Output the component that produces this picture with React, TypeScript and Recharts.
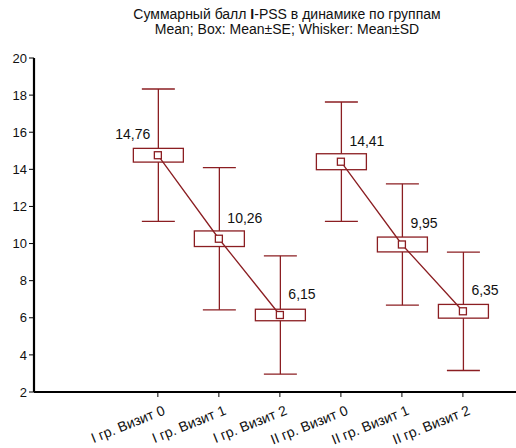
import { ComposedChart, Bar, Line, XAxis, YAxis } from "recharts";

const visits = [
  "I гр. Визит 0",
  "I гр. Визит 1",
  "I гр. Визит 2",
  "II гр. Визит 0",
  "II гр. Визит 1",
  "II гр. Визит 2",
];
const groupOf = [1, 1, 1, 2, 2, 2];
const means = [14.76, 10.26, 6.15, 14.41, 9.95, 6.35];
const sds = [3.57, 3.83, 3.19, 3.22, 3.27, 3.19];
const ses = [0.37, 0.42, 0.31, 0.43, 0.4, 0.37];
const meanLabels = ["14,76", "10,26", "6,15", "14,41", "9,95", "6,35"];
const yTicks = [2, 4, 6, 8, 10, 12, 14, 16, 18, 20];

const RED = "#8b1e22";
const FONT = "'Liberation Sans', Arial, sans-serif";

const data = visits.map((name, i) => ({
  x: i,
  name,
  mean: means[i],
  sd: sds[i],
  se: ses[i],
  label: meanLabels[i],
  range: [means[i] - sds[i], means[i] + sds[i]],
  meanI: groupOf[i] === 1 ? means[i] : null,
  meanII: groupOf[i] === 2 ? means[i] : null,
}));

function BoxWhisker(props: any) {
  const { x, y, width, height, payload, index } = props;
  const cx = x + width / 2;
  const ppu = height / (2 * payload.sd);
  const cy = y + height / 2;
  const boxH = payload.se * ppu;
  const cap = 16.5;
  const labelLeft = index === 0;
  return (
    <g>
      <line x1={cx} x2={cx} y1={y} y2={y + height} stroke={RED} strokeWidth={1.3} />
      <line x1={cx - cap} x2={cx + cap} y1={y} y2={y} stroke={RED} strokeWidth={1.3} />
      <line x1={cx - cap} x2={cx + cap} y1={y + height} y2={y + height} stroke={RED} strokeWidth={1.3} />
      <rect x={cx - 25} y={cy - boxH} width={50} height={boxH * 2} fill="#fff" stroke={RED} strokeWidth={1.3} />
      <text
        x={labelLeft ? cx - 8 : cx + 8}
        y={cy - 16}
        textAnchor={labelLeft ? "end" : "start"}
        fontSize={14}
        fontFamily={FONT}
        fill="#111"
      >
        {payload.label}
      </text>
    </g>
  );
}

function MeanDot(props: any) {
  const { cx, cy, value } = props;
  if (value == null || cx == null) return <g />;
  return <rect x={cx - 3.5} y={cy - 3.5} width={7} height={7} fill="#fff" stroke={RED} strokeWidth={1.3} />;
}

function XTick(props: any) {
  const { x, y, payload } = props;
  return (
    <text
      transform={`translate(${x + 8},${y + 15}) rotate(-22)`}
      textAnchor="end"
      fontSize={14}
      fontFamily={FONT}
      fill="#111"
    >
      {visits[payload.value]}
    </text>
  );
}

export default function App() {
  return (
    <div style={{ position: "absolute", left: 0, top: 0, width: 516, height: 448, background: "#fff" }}>
      <div
        style={{
          position: "absolute",
          left: 0,
          top: 7,
          width: 574,
          textAlign: "center",
          fontFamily: FONT,
          fontSize: 14,
          lineHeight: "15px",
          color: "#111",
        }}
      >
        <div>
          Суммарный балл <b>I</b>-PSS в динамике по группам
        </div>
        <div>Mean; Box: Mean±SE; Whisker: Mean±SD</div>
      </div>
      <ComposedChart
        width={516}
        height={448}
        data={data}
        margin={{ top: 58, right: 0, bottom: 26, left: 0 }}
      >
        <XAxis
          type="number"
          dataKey="x"
          domain={[-2.03, 5.87]}
          ticks={[0, 1, 2, 3, 4, 5]}
          tick={<XTick />}
          tickSize={5}
          height={30}
          axisLine={{ stroke: "#000", strokeWidth: 2.2 }}
          tickLine={{ stroke: "#000", strokeWidth: 1 }}
          allowDataOverflow
        />
        <YAxis
          type="number"
          domain={[2, 20]}
          ticks={yTicks}
          width={34}
          tickSize={5}
          tick={{ fill: "#111", fontSize: 13, fontFamily: FONT }}
          axisLine={{ stroke: "#000", strokeWidth: 2.2 }}
          tickLine={{ stroke: "#000", strokeWidth: 1 }}
          allowDataOverflow
        />
        <Bar dataKey="range" barSize={50} shape={<BoxWhisker />} isAnimationActive={false} />
        <Line
          dataKey="meanI"
          stroke={RED}
          strokeWidth={1.3}
          dot={<MeanDot />}
          activeDot={false}
          connectNulls={false}
          isAnimationActive={false}
        />
        <Line
          dataKey="meanII"
          stroke={RED}
          strokeWidth={1.3}
          dot={<MeanDot />}
          activeDot={false}
          connectNulls={false}
          isAnimationActive={false}
        />
      </ComposedChart>
    </div>
  );
}
